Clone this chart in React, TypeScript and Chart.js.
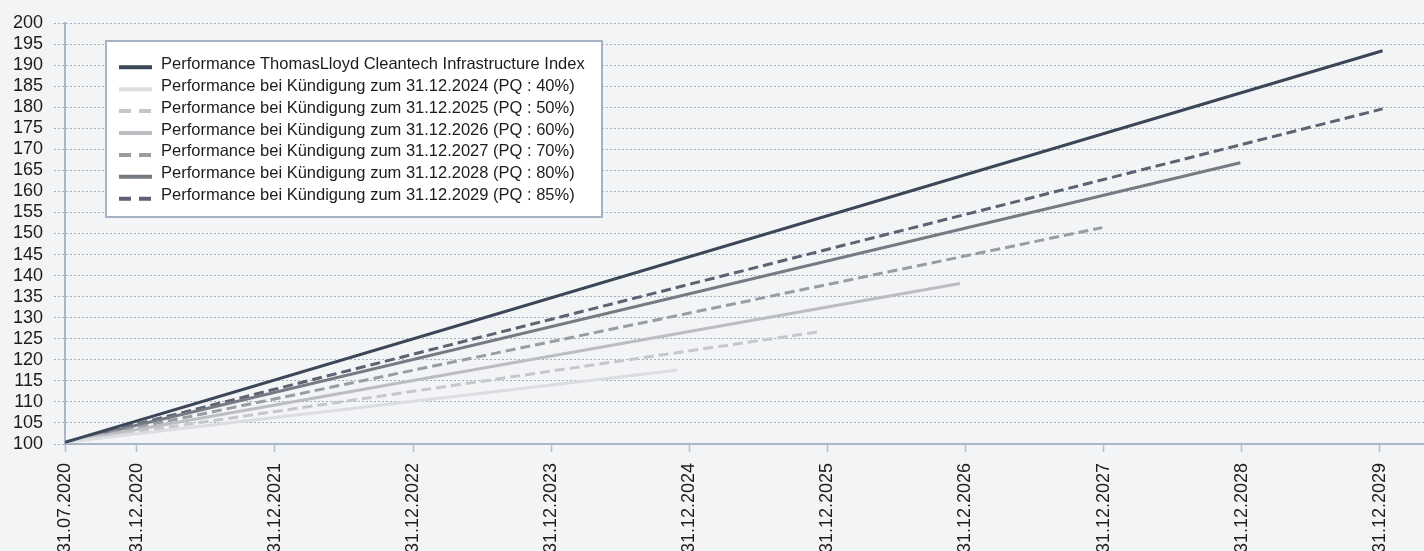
import React, { useEffect, useRef } from 'react';
import { Chart, registerables } from 'chart.js';

Chart.register(...registerables);

// X axis: positions in years relative to 31.12.2020
const xTickLabels = [
  '31.07.2020', '31.12.2020', '31.12.2021', '31.12.2022', '31.12.2023', '31.12.2024',
  '31.12.2025', '31.12.2026', '31.12.2027', '31.12.2028', '31.12.2029',
];
const xTickValues = [-0.52, 0, 1, 2, 3, 4, 5, 6, 7, 8, 9];
const xMin = -0.52;
const xMax = 9.32;

const yMin = 100;
const yMax = 200;
const yStep = 5;

const seriesLabels = [
  'Performance ThomasLloyd Cleantech Infrastructure Index',
  'Performance bei Kündigung zum 31.12.2024 (PQ : 40%)',
  'Performance bei Kündigung zum 31.12.2025 (PQ : 50%)',
  'Performance bei Kündigung zum 31.12.2026 (PQ : 60%)',
  'Performance bei Kündigung zum 31.12.2027 (PQ : 70%)',
  'Performance bei Kündigung zum 31.12.2028 (PQ : 80%)',
  'Performance bei Kündigung zum 31.12.2029 (PQ : 85%)',
];
const startX = -0.52;
const startY = 100.4;
const endX = [9.02, 3.91, 4.93, 5.96, 6.99, 7.99, 9.02];
const endY = [193.4, 117.5, 126.6, 138.1, 151.4, 166.8, 179.6];

const seriesColors = ['#3b4656', '#dcdde0', '#c6c7cb', '#bcbdc2', '#9a9ca3', '#767a83', '#5b6271'];
const seriesDashed = [false, false, true, false, true, false, true];

const FONT = '"Liberation Sans", Arial, Helvetica, sans-serif';
const W = 1424;
const H = 560;

const boxLegend = {
  id: 'boxLegend',
  afterDraw(chart: any) {
    const ctx = chart.ctx as CanvasRenderingContext2D;
    ctx.save();
    ctx.fillStyle = '#ffffff';
    ctx.fillRect(106, 41, 496, 176);
    ctx.strokeStyle = '#a3b3c3';
    ctx.lineWidth = 2;
    ctx.strokeRect(106, 41, 496, 176);
    chart.data.datasets.forEach((ds: any, i: number) => {
      const cy = 67.3 + i * 21.9;
      ctx.beginPath();
      ctx.setLineDash(seriesDashed[i] ? [12, 8] : []);
      ctx.lineWidth = 4;
      ctx.strokeStyle = ds.borderColor;
      ctx.moveTo(119, cy);
      ctx.lineTo(152, cy);
      ctx.stroke();
      ctx.setLineDash([]);
      ctx.fillStyle = '#1c1c1c';
      ctx.font = `16.5px ${FONT}`;
      ctx.textBaseline = 'middle';
      ctx.textAlign = 'left';
      ctx.fillText(ds.label, 161, cy - 3);
    });
    ctx.restore();
  },
};

export default function App() {
  const ref = useRef<HTMLCanvasElement | null>(null);

  useEffect(() => {
    if (!ref.current) return;
    const datasets = seriesLabels.map((label, i) => ({
      label,
      data: [
        { x: startX, y: startY },
        { x: endX[i], y: endY[i] },
      ],
      borderColor: seriesColors[i],
      backgroundColor: seriesColors[i],
      borderWidth: 3,
      borderDash: seriesDashed[i] ? [10, 5] : [],
      pointRadius: 0,
      tension: 0,
      fill: false,
    }));

    const chart = new Chart(ref.current, {
      type: 'line',
      data: { datasets },
      plugins: [boxLegend],
      options: {
        animation: false,
        responsive: false,
        devicePixelRatio: 1,
        layout: { padding: { top: 23, right: 0, bottom: 0, left: 0 } },
        plugins: {
          legend: { display: false },
          tooltip: { enabled: false },
        },
        scales: {
          x: {
            type: 'linear',
            min: xMin,
            max: xMax,
            afterBuildTicks: (scale: any) => {
              scale.ticks = xTickValues.map((v) => ({ value: v }));
            },
            afterFit: (scale: any) => {
              scale.height = H - 444;
            },
            ticks: {
              autoSkip: false,
              minRotation: 90,
              maxRotation: 90,
              padding: 11,
              color: '#1c1c1c',
              font: { family: FONT, size: 18 },
              callback: (_v: any, i: number) => xTickLabels[i],
            },
            grid: {
              drawOnChartArea: false,
              drawTicks: true,
              tickLength: 8,
              tickColor: '#b2c0ce',
              tickWidth: 1.5,
            },
            border: { display: true, color: '#a9b8c7', width: 2 },
          },
          y: {
            type: 'linear',
            min: yMin,
            max: yMax,
            afterFit: (scale: any) => {
              scale.width = 65;
            },
            ticks: {
              stepSize: yStep,
              autoSkip: false,
              padding: 11,
              color: '#1c1c1c',
              font: { family: FONT, size: 18 },
            },
            grid: {
              color: '#9fb0c1',
              lineWidth: 1,
              drawTicks: true,
              tickLength: 11,
              tickColor: '#9fb0c1',
              tickBorderDash: [2, 2],
            },
            border: { display: true, color: '#a9b8c7', width: 2, dash: [2, 2] },
          },
        },
      },
    } as any);
    return () => chart.destroy();
  }, []);

  return (
    <div style={{ position: 'fixed', left: 0, top: 0, width: W, height: H, background: '#f3f4f6' }}>
      <canvas ref={ref} width={W} height={H} style={{ display: 'block', width: W, height: H }} />
    </div>
  );
}
